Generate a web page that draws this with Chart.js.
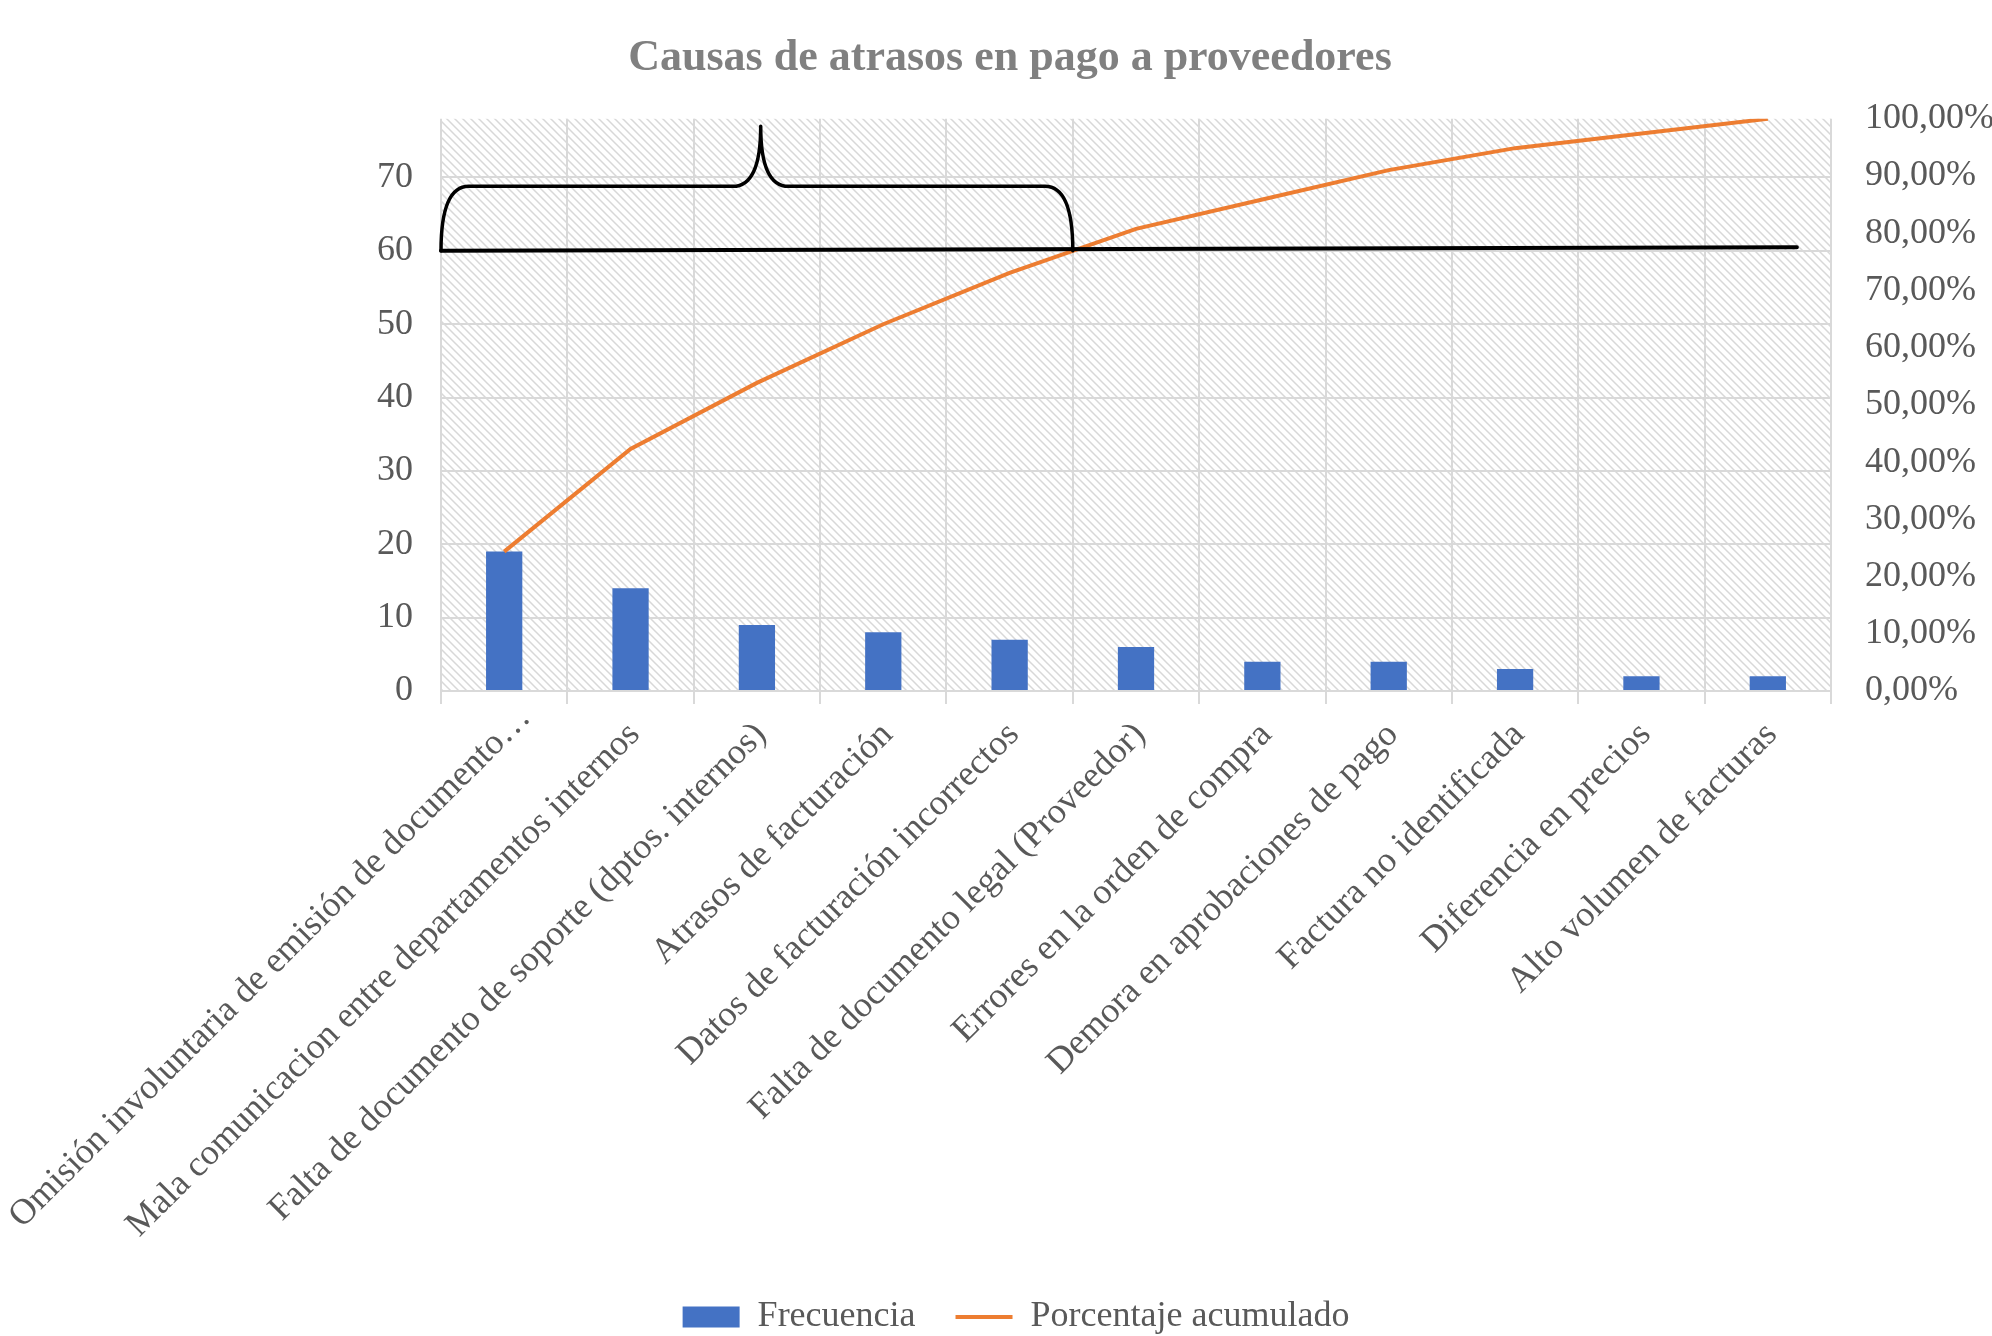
<!DOCTYPE html>
<html>
<head>
<meta charset="utf-8">
<script src="https://cdn.jsdelivr.net/npm/chart.js@4.4.1/dist/chart.umd.min.js"></script>
<style>
  html, body { margin: 0; padding: 0; background: #fff; overflow: hidden; }
</style>
</head>
<body>
<canvas id="paretoChart" width="1992" height="1336"></canvas>
<script>
const causes = [
    'Omisión involuntaria de emisión de documento…',
    'Mala comunicacion entre departamentos internos',
    'Falta de documento de soporte (dptos. internos)',
    'Atrasos de facturación',
    'Datos de facturación incorrectos',
    'Falta de documento legal (Proveedor)',
    'Errores en la orden de compra',
    'Demora en aprobaciones de pago',
    'Factura no identificada',
    'Diferencia en precios',
    'Alto volumen de facturas'
];
const frequency = [19, 14, 9, 8, 7, 6, 4, 4, 3, 2, 2];
const cumulativePct = [24.36, 42.31, 53.85, 64.10, 73.08, 80.77, 85.90, 91.03, 94.87, 97.44, 100];

const countTicks = ['0', '10', '20', '30', '40', '50', '60', '70'];
const pctTicks = ['0,00%', '10,00%', '20,00%', '30,00%', '40,00%', '50,00%',
    '60,00%', '70,00%', '80,00%', '90,00%', '100,00%'];

// hand drawn marks, in axis units: [category index, count]
const cutLineStart = [-0.5, 60];
const cutLineEnd = [10.23, 60.5];
const braceX = [-0.5, 2.03, 4.5];   // left end, tip, right end
const braceY = [60, 68.8, 77];      // base, arm, tip

const serif = "'Liberation Serif', 'Times New Roman', serif";
const textGray = '#595959';
const gridGray = '#d9d9d9';

function hatchPattern(ctx) {
    const c = document.createElement('canvas');
    c.width = 8;
    c.height = 8;
    const g = c.getContext('2d');
    g.fillStyle = '#ffffff';
    g.fillRect(0, 0, 8, 8);
    g.strokeStyle = '#d8d8d8';
    g.lineWidth = 1.5;
    g.beginPath();
    g.moveTo(-2, -2); g.lineTo(10, 10);
    g.moveTo(-2, 6); g.lineTo(2, 10);
    g.moveTo(6, -2); g.lineTo(10, 2);
    g.stroke();
    return ctx.createPattern(c, 'repeat');
}

// nudges to sit the title, legend and the truncated first label where Excel put them
const tweaks = {
    id: 'tweaks',
    afterLayout(chart) {
        chart.titleBlock.left += 28;
        chart.legend.left += 20;
        chart.legend.right += 20;
    },
    beforeDraw(chart) {
        const items = chart.scales.x.getLabelItems();
        if (items.length) {
            const t = items[0].options.translation;
            t[0] += 17;
            t[1] -= 17;
        }
    }
};

const plotBackground = {
    id: 'plotBackground',
    beforeDraw(chart) {
        const { ctx, chartArea: a } = chart;
        ctx.save();
        ctx.fillStyle = hatchPattern(ctx);
        ctx.fillRect(a.left, a.top, a.right - a.left, a.bottom - a.top);
        ctx.restore();
    }
};

const handMarks = {
    id: 'handMarks',
    afterDatasetsDraw(chart) {
        const { ctx } = chart;
        const x = chart.scales.x;
        const y = chart.scales.y;
        const px = v => x.getPixelForValue(v);
        const py = v => y.getPixelForValue(v);

        ctx.save();
        ctx.strokeStyle = '#000000';
        ctx.lineCap = 'round';
        ctx.lineJoin = 'round';

        // cut line
        ctx.lineWidth = 4;
        ctx.beginPath();
        ctx.moveTo(px(cutLineStart[0]), py(cutLineStart[1]));
        ctx.lineTo(px(cutLineEnd[0]), py(cutLineEnd[1]));
        ctx.stroke();

        // curly brace
        const [xl, xt, xr] = braceX.map(px);
        const [yb, ya, yt] = braceY.map(py);
        const cw = (px(1) - px(0)) * 0.22;
        ctx.lineWidth = 3.5;
        ctx.beginPath();
        ctx.moveTo(xl, yb);
        ctx.quadraticCurveTo(xl, ya, xl + cw, ya);
        ctx.lineTo(xt - cw, ya);
        ctx.quadraticCurveTo(xt, ya, xt, yt);
        ctx.quadraticCurveTo(xt, ya, xt + cw, ya);
        ctx.lineTo(xr - cw, ya);
        ctx.quadraticCurveTo(xr, ya, xr, yb);
        ctx.stroke();
        ctx.restore();
    }
};

new Chart(document.getElementById('paretoChart'), {
    data: {
        labels: causes,
        datasets: [
            {
                type: 'bar',
                label: 'Frecuencia',
                data: frequency,
                backgroundColor: '#4472C4',
                barPercentage: 0.287,
                categoryPercentage: 1,
                yAxisID: 'y',
                order: 2
            },
            {
                type: 'line',
                label: 'Porcentaje acumulado',
                data: cumulativePct,
                borderColor: '#ED7D31',
                backgroundColor: '#ED7D31',
                borderWidth: 4,
                pointRadius: 0,
                tension: 0,
                fill: false,
                yAxisID: 'y1',
                order: 1
            }
        ]
    },
    options: {
        responsive: false,
        animation: false,
        devicePixelRatio: 1,
        layout: { padding: { left: 0, right: 0, top: 0, bottom: -9 } },
        plugins: {
            title: {
                display: true,
                text: 'Causas de atrasos en pago a proveedores',
                color: '#808080',
                font: { family: serif, size: 44, weight: 'bold' },
                padding: { top: 32, bottom: 34 }
            },
            legend: {
                position: 'bottom',
                labels: {
                    color: textGray,
                    font: { family: serif, size: 36 },
                    usePointStyle: true,
                    pointStyleWidth: 57,
                    boxHeight: 21,
                    padding: 40,
                    generateLabels(chart) {
                        const items = Chart.defaults.plugins.legend.labels.generateLabels(chart);
                        items.sort((a, b) => a.datasetIndex - b.datasetIndex);
                        items.forEach(item => {
                            const ds = chart.data.datasets[item.datasetIndex];
                            if (ds.type === 'bar') {
                                item.pointStyle = 'rect';
                                item.lineWidth = 0;
                                item.fillStyle = ds.backgroundColor;
                            } else {
                                item.pointStyle = 'line';
                                item.lineWidth = 4;
                                item.strokeStyle = ds.borderColor;
                            }
                        });
                        return items;
                    }
                }
            },
            tooltip: { enabled: false }
        },
        scales: {
            x: {
                offset: true,
                grid: { color: gridGray, lineWidth: 2, offset: true, drawTicks: true, tickLength: 13 },
                border: { display: true, color: gridGray, width: 2 },
                ticks: {
                    color: textGray,
                    font: { family: serif, size: 36 },
                    minRotation: 45,
                    maxRotation: 45,
                    autoSkip: false,
                    padding: 10,
                    labelOffset: 4
                },
                afterFit(scale) {
                    scale.height = 568;
                    scale.paddingLeft = 0;
                    scale.paddingRight = 0;
                }
            },
            y: {
                position: 'left',
                min: 0,
                max: 78,
                grid: { color: gridGray, lineWidth: 2, drawTicks: false },
                border: { display: false },
                ticks: {
                    stepSize: 10,
                    includeBounds: false,
                    color: textGray,
                    font: { family: serif, size: 36 },
                    padding: 28,
                    callback: (v, i) => countTicks[i]
                },
                afterFit(scale) { scale.width = 441; }
            },
            y1: {
                position: 'right',
                min: 0,
                max: 100,
                grid: { drawOnChartArea: false, drawTicks: false },
                border: { display: false },
                ticks: {
                    stepSize: 10,
                    color: textGray,
                    font: { family: serif, size: 36 },
                    padding: 34,
                    callback: (v, i) => pctTicks[i]
                },
                afterFit(scale) { scale.width = 161; }
            }
        }
    },
    plugins: [plotBackground, tweaks, handMarks]
});
</script>
</body>
</html>
